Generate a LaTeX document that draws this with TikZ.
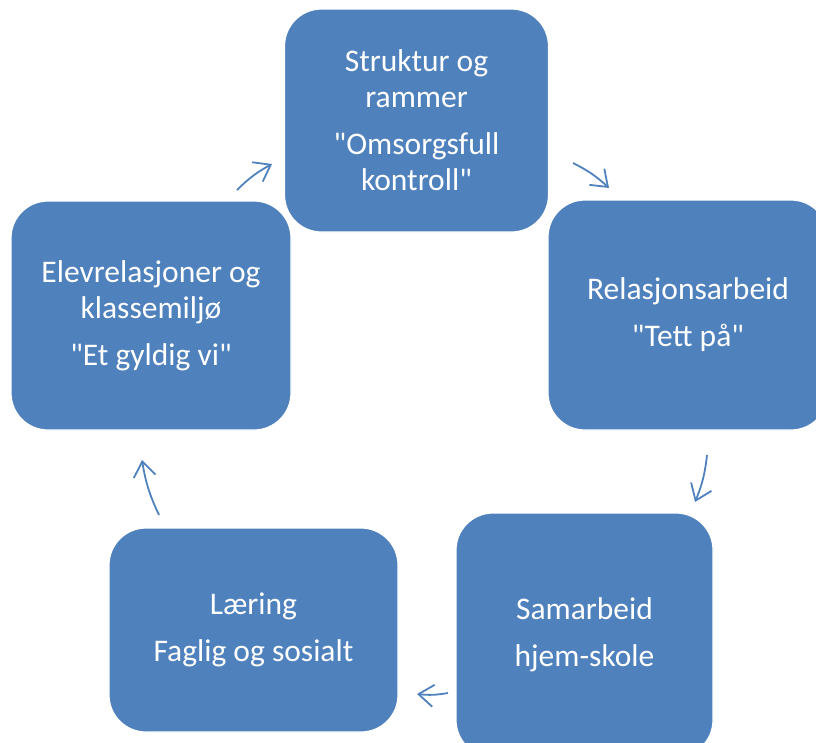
\documentclass[tikz,border=0pt]{standalone}
\usepackage{fontspec}
\setmainfont{Carlito}[Ligatures=TeXOff]
\usepackage{tikz}
\usetikzlibrary{arrows.meta}
\definecolor{boksblaa}{HTML}{4F81BD}
\tikzset{
    boks/.style={
        shape=rectangle, rounded corners=37pt, fill=boksblaa, draw=white,
        line width=1.2pt, text=white, align=center, inner sep=0pt,
        font=\fontsize{31.5}{36}\selectfont
    },
    pil/.style={
        draw=boksblaa, line width=1.8pt,
        -{Straight Barb[length=15pt,width=22pt]}
    }
}

\begin{document}
\begin{tikzpicture}[x=1pt,y=1pt]
		\clip (0,0) rectangle (816,-742);
		\node[boks, minimum width=264pt, minimum height=223pt] (struktur) at (416.5,-120.5) {Struktur og\\rammer\\[11pt]"Omsorgsfull\\kontroll"};
		\node[boks, minimum width=280pt, minimum height=230pt] (relasjon) at (688,-315) {Relasjonsarbeid\\[11pt]"Tett på"};
		\node[boks, minimum width=257pt, minimum height=244pt] (samarbeid) at (584.5,-635) {Samarbeid\\[11pt]hjem-skole};
		\node[boks, minimum width=289pt, minimum height=204pt] (laering) at (253.5,-630) {Læring\\[11pt]Faglig og sosialt};
		\node[boks, minimum width=280pt, minimum height=229pt] (elev) at (151,-315.5) {Elevrelasjoner og\\klassemiljø\\[11pt]"Et gyldig vi"};
		
		\coordinate (p1a) at (237,-190);
		\coordinate (p1b) at (272,-164);
		\coordinate (p2a) at (573,-163);
		\coordinate (p2b) at (609,-188);
		\coordinate (p3a) at (707,-455);
		\coordinate (p3b) at (695,-502);
		\coordinate (p4a) at (448,-693);
		\coordinate (p4b) at (417,-694);
		\coordinate (p5a) at (159,-515);
		\coordinate (p5b) at (142,-460);
		
		\draw [pil] (p1a) to[bend left=8] (p1b);
		\draw [pil] (p2a) to[bend left=8] (p2b);
		\draw [pil] (p3a) to[bend left=8] (p3b);
		\draw [pil] (p4a) to[bend left=8] (p4b);
		\draw [pil] (p5a) to[bend left=8] (p5b);
		\end{tikzpicture}
\end{document}
